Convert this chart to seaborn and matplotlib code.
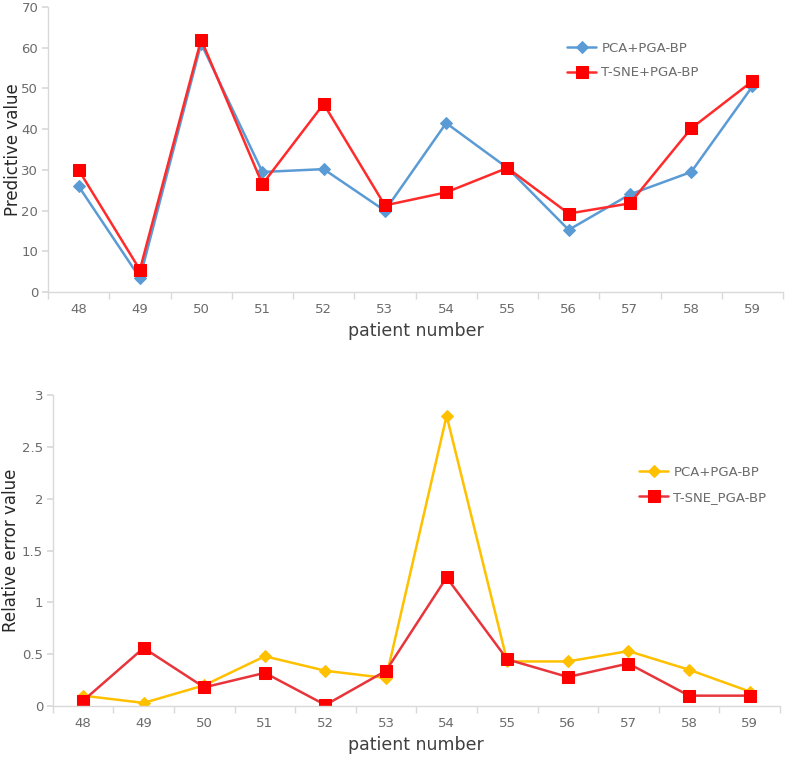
import matplotlib
matplotlib.use("Agg")
import matplotlib.pyplot as plt
import seaborn as sns
import pandas as pd
import numpy as np
from matplotlib.ticker import FixedLocator

patients = ["48", "49", "50", "51", "52", "53", "54", "55", "56", "57", "58", "59"]
pca_pred = [26, 3.5, 61, 29.5, 30.2, 20, 41.5, 30.5, 15.3, 24, 29.5, 50.5]
tsne_pred = [30, 5.5, 62, 26.5, 46.2, 21.3, 24.5, 30.5, 19.3, 21.8, 40.2, 51.8]
pca_err = [0.10, 0.03, 0.20, 0.48, 0.34, 0.27, 2.80, 0.43, 0.43, 0.53, 0.35, 0.14]
tsne_err = [0.05, 0.56, 0.18, 0.32, 0.01, 0.34, 1.24, 0.45, 0.28, 0.41, 0.10, 0.10]

sns.set_theme(style="white")
plt.rcParams['font.family'] = ['DejaVu Sans']

fig = plt.figure(figsize=(7.87, 7.67), dpi=100)
ax1 = fig.add_axes([0.061, 0.619, 0.934, 0.372])
ax2 = fig.add_axes([0.067, 0.0795, 0.924, 0.4055])

x = np.arange(len(patients))
grey = "#6B6B6B"

def style(ax, ymax, yticks, ylabel, label_x):
    ax.set_xlim(-0.5, len(patients) - 0.5)
    ax.set_ylim(0, ymax)
    ax.set_xticks(x)
    ax.set_xticklabels(patients)
    ax.xaxis.set_minor_locator(FixedLocator(np.arange(-0.5, len(patients), 1)))
    ax.tick_params(axis='x', which='major', length=0, labelsize=9.5, labelcolor=grey, pad=8)
    ax.tick_params(axis='x', which='minor', length=5, color="#D9D9D9", width=1, direction='out', bottom=True)
    ax.set_yticks(yticks)
    ax.set_yticklabels([("%g" % t) for t in yticks])
    ax.tick_params(axis='y', length=4, color="#D9D9D9", labelsize=9.5, labelcolor=grey, left=True, pad=3)
    for s in ["top", "right"]:
        ax.spines[s].set_visible(False)
    for s in ["left", "bottom"]:
        ax.spines[s].set_color("#D9D9D9")
        ax.spines[s].set_linewidth(1)
    ax.set_xlabel("patient number", fontsize=12.5, color="#404040", labelpad=4)
    ax.set_ylabel(ylabel, fontsize=12, color="#262626")
    ax.yaxis.set_label_coords(label_x, 0.5)

sns.lineplot(x=x, y=pca_pred, ax=ax1, color="#5B9BD5", marker="D", markersize=6.5,
             markeredgecolor="#5B9BD5", linewidth=1.8, label="PCA+PGA-BP")
sns.lineplot(x=x, y=tsne_pred, ax=ax1, color="#FF2B2B", marker="s", markersize=9,
             markerfacecolor="#FF0000", markeredgecolor="#FF0000", linewidth=1.8, label="T-SNE+PGA-BP")
style(ax1, 70, list(range(0, 71, 10)), "Predictive value", -0.035)
ax1.legend(loc="upper left", bbox_to_anchor=(0.69, 0.92), frameon=False, fontsize=9.5,
           labelcolor=grey, handlelength=2.2, labelspacing=0.9, handletextpad=0.4)

sns.lineplot(x=x, y=pca_err, ax=ax2, color="#FFC000", marker="D", markersize=6.5,
             markeredgecolor="#FFC000", linewidth=1.8, label="PCA+PGA-BP")
sns.lineplot(x=x, y=tsne_err, ax=ax2, color="#E8353B", marker="s", markersize=9,
             markerfacecolor="#FF0000", markeredgecolor="#FF0000", linewidth=1.8, label="T-SNE_PGA-BP")
style(ax2, 3, [0, 0.5, 1, 1.5, 2, 2.5, 3], "Relative error value", -0.045)
ax2.legend(loc="upper left", bbox_to_anchor=(0.79, 0.81), frameon=False, fontsize=9.5,
           labelcolor=grey, handlelength=2.2, labelspacing=0.9, handletextpad=0.4)

fig.savefig("out.png", dpi=100)
